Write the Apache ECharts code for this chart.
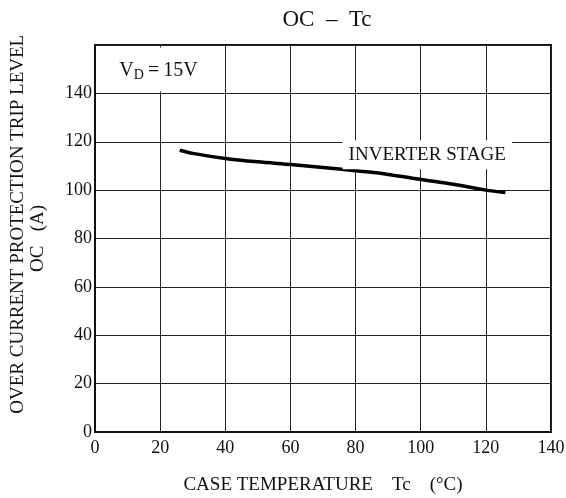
<!DOCTYPE html>
<html><head><meta charset="utf-8">
<script src="https://cdn.jsdelivr.net/npm/echarts@6/dist/echarts.min.js"></script>
<style>html,body{margin:0;padding:0;background:#fff}#c{width:566px;height:498px}</style>
</head><body><div id="c"></div>
<script>
const xTicks = [0, 20, 40, 60, 80, 100, 120, 140];
const yTicks = [0, 20, 40, 60, 80, 100, 120, 140];
const caseTemp = [26, 30, 40, 50, 60, 70, 80, 90, 100, 110, 120, 126];
const ocLevel = [116.5, 115.2, 113.1, 111.7, 110.6, 109.4, 108.0, 106.5, 104.4, 102.4, 100.0, 99.0];
const seriesName = 'INVERTER STAGE';

const FONT = '"Liberation Serif", "Times New Roman", serif';
const chart = echarts.init(document.getElementById('c'), null, {renderer: 'canvas'});
const option = {
  animation: false,
  backgroundColor: '#fff',
  title: {
    text: 'OC  –  Tc', left: 322, top: 3, textAlign: 'center',
    textStyle: {fontFamily: FONT, fontSize: 23, fontWeight: 'normal', color: '#111'}
  },
  grid: {left: 95, right: 15, top: 45, bottom: 66, outerBoundsMode: 'none', containLabel: false,
    show: true, borderColor: '#111', borderWidth: 2, backgroundColor: 'transparent'},
  xAxis: {
    type: 'value', min: 0, max: 140, interval: 20,
    name: 'CASE TEMPERATURE    Tc    (°C)', nameLocation: 'middle', nameGap: 44,
    nameTextStyle: {fontFamily: FONT, fontSize: 19, color: '#111'},
    axisLine: {show: true, lineStyle: {color: '#111', width: 2}},
    axisTick: {show: false},
    axisLabel: {fontFamily: FONT, fontSize: 18, color: '#111', margin: 7,
      formatter: v => xTicks.includes(v) ? String(v) : ''},
    splitLine: {show: true, lineStyle: {color: '#222', width: 1}}
  },
  yAxis: {
    type: 'value', min: 0, max: 160, interval: 20,
    name: '      OVER CURRENT PROTECTION TRIP LEVEL\nOC   (A)', nameLocation: 'middle', nameGap: 47,
    nameMoveOverlap: false,
    nameTextStyle: {fontFamily: FONT, fontSize: 19, color: '#111', lineHeight: 20},
    axisLine: {show: true, lineStyle: {color: '#111', width: 2}},
    axisTick: {show: false},
    axisLabel: {fontFamily: FONT, fontSize: 18, color: '#111', margin: 3,
      formatter: v => yTicks.includes(v) ? String(v) : ''},
    splitLine: {show: true, lineStyle: {color: '#222', width: 1}}
  },
  series: [{
    type: 'line', name: seriesName,
    data: caseTemp.map((t, i) => [t, ocLevel[i]]),
    smooth: 0.3, symbol: 'none',
    lineStyle: {color: '#000', width: 3.5},
    markPoint: {
      symbol: 'rect', symbolSize: 1,
      itemStyle: {color: 'transparent'},
      data: [
        {coord: [102, 114.6], value: 0,
          label: {show: true, position: 'inside', formatter: seriesName,
            fontFamily: FONT, fontSize: 19, color: '#111', backgroundColor: '#fff',
            padding: [4, 6, 6, 6]}},
        {coord: [19.5, 149.9], value: 0,
          label: {show: true, position: 'inside',
            formatter: '{m|V}{s|D}{m|\u2009=\u200915V}',
            backgroundColor: '#fff', padding: [12, 6, 9, 6],
            rich: {
              m: {fontFamily: FONT, fontSize: 20, color: '#111'},
              s: {fontFamily: FONT, fontSize: 14, color: '#111', padding: [9, 0, 0, 0]}
            }}}
      ]
    }
  }]
};
chart.setOption(option);
</script>
</body></html>
